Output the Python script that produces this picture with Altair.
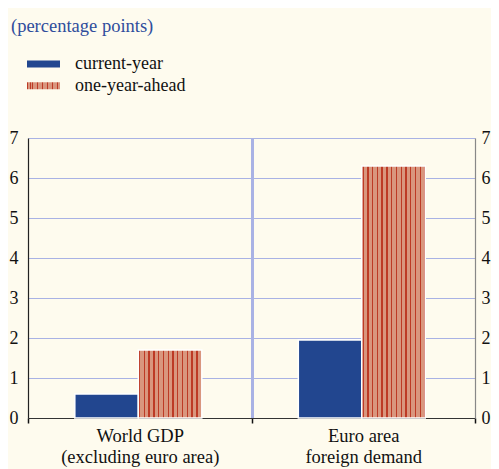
import altair as alt
import pandas as pd

# ---- data ----
categories = ["World GDP|(excluding euro area)", "Euro area|foreign demand"]
series = ["current-year", "one-year-ahead"]
current_year = [0.6, 1.95]
one_year_ahead = [1.7, 6.3]
y_ticks = [0, 1, 2, 3, 4, 5, 6, 7]

rows = []
for c, v in zip(categories, current_year):
    rows.append({"category": c, "series": series[0], "value": v})
for c, v in zip(categories, one_year_ahead):
    rows.append({"category": c, "series": series[1], "value": v})
df = pd.DataFrame(rows)

# ---- styles ----
FONT = "Liberation Serif"
BG = "#fefbee"
BLUE = "#22468f"
SALMON = "#d9967e"
STRIPE = "#bd3a25"
GRID = "#a9b2e4"
TITLE_BLUE = "#2f4d9c"

# vertical hatch as a hard-stop linear gradient
stops = [(0.0, SALMON)]
n_stripes = 14
for i in range(n_stripes):
    c = (1.3 + i * 4.73) / 63.0
    h = 0.7 / 63.0
    a = max(0.0, c - h)
    b = min(1.0, c + h)
    stops += [(a, SALMON), (a, STRIPE), (b, STRIPE), (b, SALMON)]
stops.append((1.0, SALMON))
stops_js = ", ".join("{offset: %.4f, color: '%s'}" % (o, col) for o, col in stops)
grad_expr = "{gradient: 'linear', x1: 0, y1: 0, x2: 1, y2: 0, stops: [%s]}" % stops_js

swatch_path = "M-1.65,-0.35H1.65V0.35H-1.65Z"

x_enc = alt.X(
    "category:N",
    sort=categories,
    scale=alt.Scale(domain=categories, paddingInner=0, paddingOuter=0),
    axis=alt.Axis(
        title=None,
        labelExpr="split(datum.label, '|')",
        labelFont=FONT,
        labelFontSize=18.5,
        labelColor="#111111",
        labelAngle=0,
        labelLineHeight=21,
        labelPadding=3,
        labelBaseline="top",
        tickBand="extent",
        ticks=True,
        tickSize=5,
        tickWidth=1.5,
        tickColor="#111111",
        domainColor="#333333",
        domainWidth=1.2,
        grid=True,
        gridWidth=3,
        gridColor={
            "condition": {
                "test": "datum.value === '%s' && !datum.extra" % categories[0],
                "value": GRID,
            },
            "value": "transparent",
        },
    ),
)

bars = alt.Chart(df).mark_bar(stroke="white", strokeWidth=1.5).encode(
    x=x_enc,
    xOffset=alt.XOffset(
        "series:N",
        sort=series,
        scale=alt.Scale(domain=series, paddingInner=0, paddingOuter=0.76, align=0.485),
    ),
    y=alt.Y(
        "value:Q",
        scale=alt.Scale(domain=[0, 7], nice=False),
        axis=alt.Axis(
            orient="left",
            title=None,
            values=y_ticks,
            ticks=False,
            labelFont=FONT,
            labelFontSize=18,
            labelColor="#111111",
            labelPadding=10,
            domainColor="#222222",
            domainWidth=1.2,
            grid=True,
            gridColor=GRID,
            gridWidth=1,
        ),
    ),
    color=alt.Color(
        "series:N",
        scale=alt.Scale(domain=series, range=[BLUE, {"expr": grad_expr}]),
        legend=alt.Legend(
            title=None,
            orient="none",
            legendX=5.5,
            legendY=-84,
            symbolType=swatch_path,
            symbolSize=400,
            symbolStrokeWidth=0,
            labelOffset=21.5,
            labelFont=FONT,
            labelFontSize=18,
            labelColor="#111111",
            padding=0,
            rowPadding=2.7,
        ),
    ),
)

right_axis = alt.Chart(df).mark_bar(opacity=0).encode(
    x=x_enc,
    y=alt.Y(
        "value:Q",
        scale=alt.Scale(domain=[0, 7], nice=False),
        axis=alt.Axis(
            orient="right",
            title=None,
            values=y_ticks,
            ticks=False,
            grid=False,
            labelFont=FONT,
            labelFontSize=18,
            labelColor="#111111",
            labelPadding=6,
            domainColor="#888888",
            domainWidth=1.2,
        ),
    ),
)

chart = (
    alt.layer(bars, right_axis)
    .resolve_scale(y="independent")
    .properties(
        width=447,
        height=280,
        autosize=alt.AutoSizeParams(type="none"),
        padding={"left": 20, "top": 130, "right": 16, "bottom": 51},
        background=BG,
        title=alt.TitleParams(
            text="(percentage points)",
            anchor="start",
            font=FONT,
            fontSize=18.5,
            fontWeight="normal",
            color=TITLE_BLUE,
            dx=2,
            dy=-15,
        ),
    )
    .configure_view(stroke="transparent")
)

chart.save("out.html", embed_options={"renderer": "svg", "actions": False})
